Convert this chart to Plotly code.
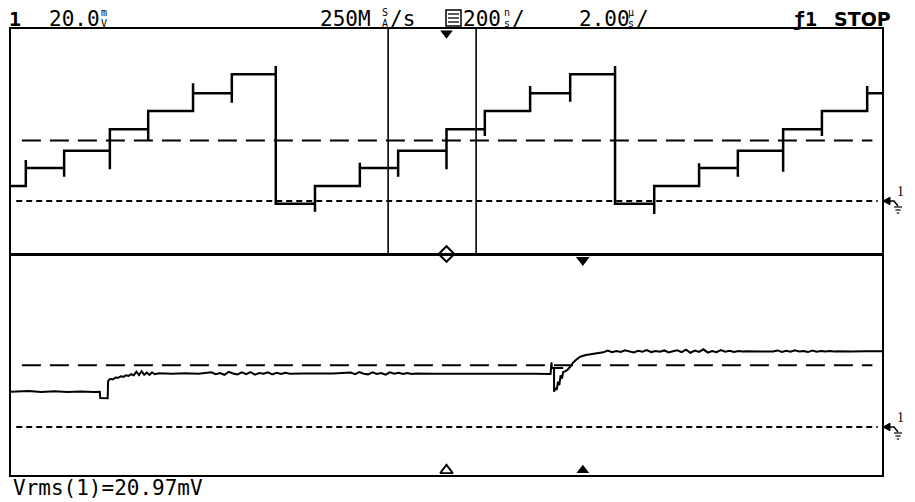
import plotly.graph_objects as go

# ---------------- data ----------------
# time axis in microseconds (2.00 us/div, 10 div), voltages in mV (20.0 mV/div)
T_START, T_END = -10.0, 10.0

# upper trace: staircase, step edge times, spike value at each edge, level after each edge
top_start_level = 10.7
top_edge_t = [-9.66, -8.78, -7.73, -6.85, -5.82, -4.93, -3.92, -3.02, -1.99, -1.11, 0.0,
              0.88, 1.92, 2.84, 3.87, 4.77, 5.80, 6.69, 7.73, 8.62, 9.66]
top_edge_spike = [29.2, 17.3, 22.5, 42.9, 83.7, 69.9, 96.0, -7.6, 27.2, 17.3, 22.5,
                  46.2, 81.8, 70.6, 96.0, -9.2, 26.8, 17.3, 20.8, 46.2, 81.8]
top_level = [23.5, 35.8, 51.0, 64.0, 76.6, 90.1, -2.0, 10.7, 23.5, 35.8, 51.0,
             64.0, 76.6, 90.1, -2.0, 10.7, 23.5, 35.8, 51.0, 64.0, 76.6]

# lower trace samples, read segment by segment (time us, value mV)
bot_t_flat1 = [-10.0, -9.6, -9.3, -9.0, -8.7, -8.4, -8.1, -7.96]
bot_v_flat1 = [25.7, 26.2, 25.4, 26.0, 25.5, 25.9, 25.5, 25.7]
bot_t_rise1 = [-7.95, -7.78, -7.77, -7.72, -7.66, -7.60, -7.54, -7.48, -7.42, -7.36, -7.30, -7.24, -7.18]
bot_v_rise1 = [21.0, 20.9, 33.5, 35.0, 34.6, 36.0, 35.8, 36.9, 36.5, 37.6, 37.2, 38.4, 37.6]
bot_t_settle = [-7.12, -7.06, -7.00, -6.94, -6.88, -6.82, -6.76, -6.70, -6.60, -6.3, -6.0, -5.7]
bot_v_settle = [40.2, 37.8, 40.6, 38.0, 39.6, 37.9, 39.8, 38.4, 39.1, 38.7, 39.1, 38.8]
bot_t_mid1 = [-5.4, -5.3, -5.2, -5.1, -5.0, -4.9, -4.8, -4.7, -4.6, -4.5, -4.4, -4.3, -4.2,
              -4.1, -4.0, -3.9, -3.8, -3.7, -3.6, -3.3, -3.0, -2.6]
bot_v_mid1 = [39.8, 38.4, 39.3, 38.0, 40.1, 38.9, 38.2, 39.7, 38.5, 39.9, 38.1, 39.2, 38.7,
              39.8, 38.3, 39.4, 38.6, 39.5, 38.8, 39.0, 38.8, 38.9]
bot_t_mid2 = [-2.2, -2.1, -2.0, -1.9, -1.8, -1.7, -1.6, -1.5, -1.4, -1.3, -1.2, -1.1, -1.0,
              -0.9, -0.8, -0.7, -0.3, 0.3, 0.9, 1.5, 2.0, 2.39]
bot_v_mid2 = [39.6, 38.4, 39.9, 38.7, 38.3, 39.7, 38.6, 39.3, 38.1, 39.8, 38.7, 39.4, 38.5,
              39.3, 38.6, 38.9, 38.8, 38.9, 38.7, 38.9, 38.8, 38.6]
bot_t_glitch = [2.41, 2.42, 2.68, 2.47, 2.47, 2.50, 2.53, 2.56, 2.59, 2.62, 2.65, 2.68, 2.72, 2.77]
bot_v_glitch = [47.0, 42.9, 42.9, 42.9, 25.7, 28.5, 27.0, 33.0, 30.5, 37.5, 35.2, 40.0, 40.5, 41.4]
bot_t_rise2 = [2.84, 2.90, 2.97, 3.07, 3.20, 3.30, 3.45, 3.60]
bot_v_rise2 = [43.8, 46.6, 48.7, 51.1, 52.3, 52.9, 53.8, 54.3]
bot_t_high = [3.7, 3.8, 3.9, 4.0, 4.1, 4.2, 4.3, 4.4, 4.5, 4.6, 4.7, 4.8, 4.9, 5.0, 5.1,
              5.2, 5.3, 5.4, 5.5, 5.6, 5.7, 5.8, 5.9, 6.0, 6.1, 6.2, 6.3, 6.4, 6.5, 6.6,
              6.7, 6.8, 6.9, 7.2, 7.5, 7.6, 7.7, 7.8, 7.9, 8.0, 8.1, 8.2, 8.3, 8.4, 8.5,
              8.6, 8.7, 8.8, 8.9, 9.0, 9.1, 9.2, 9.3, 9.6, 10.0]
bot_v_high = [55.6, 54.4, 55.2, 54.6, 55.8, 54.9, 54.3, 55.5, 54.7, 55.9, 54.5, 55.3, 54.8, 55.7, 54.2,
              55.1, 55.8, 54.4, 56.3, 54.0, 55.6, 54.6, 56.5, 54.1, 55.2, 54.4, 56.0, 54.8, 55.5, 54.6,
              55.3, 54.9, 55.1, 55.0, 55.0, 55.7, 54.6, 55.4, 54.7, 55.8, 54.9, 55.3, 54.5, 55.6, 54.8,
              55.2, 54.9, 55.3, 54.9, 55.1, 55.0, 55.1, 55.0, 55.1, 55.1]

# reference levels
top_trig_mv, bot_trig_mv = 43.0, 45.0
ground_mv = 0.0
top_range = [-37.7, 122.3]
bot_range = [-34.9, 125.1]
window_t = [-1.34, 0.68]       # delayed-sweep window cursors
trig_marker_t = 0.0
delay_marker_t = 3.13

# ---------------- figure ----------------
W, H = 915, 502
def px(x): return x / W
def py(y): return 1 - y / H

tx, ty = [T_START], [top_start_level]
for t, s, lv in zip(top_edge_t, top_edge_spike, top_level):
    tx += [t, t, t]
    ty += [ty[-1], s, lv]
tx.append(T_END)
ty.append(top_level[-1])

bot_t = (bot_t_flat1 + bot_t_rise1 + bot_t_settle + bot_t_mid1 + bot_t_mid2 +
         bot_t_glitch + bot_t_rise2 + bot_t_high)
bot_v = (bot_v_flat1 + bot_v_rise1 + bot_v_settle + bot_v_mid1 + bot_v_mid2 +
         bot_v_glitch + bot_v_rise2 + bot_v_high)
assert len(bot_t) == len(bot_v)

fig = go.Figure()
fig.add_trace(go.Scatter(x=tx, y=ty, mode="lines", line=dict(color="black", width=2.5),
                         xaxis="x", yaxis="y", hoverinfo="skip"))
fig.add_trace(go.Scatter(x=bot_t, y=bot_v, mode="lines", line=dict(color="black", width=2),
                         xaxis="x2", yaxis="y2", hoverinfo="skip"))

# markers
fig.add_trace(go.Scatter(x=[trig_marker_t], y=[119.3], mode="markers", cliponaxis=False,
                         marker=dict(symbol="triangle-down", size=11, color="black"),
                         xaxis="x", yaxis="y"))
fig.add_trace(go.Scatter(x=[trig_marker_t], y=[top_range[0]], mode="markers", cliponaxis=False,
                         marker=dict(symbol="diamond", size=12, color="white",
                                     line=dict(color="black", width=2)),
                         xaxis="x", yaxis="y"))
fig.add_trace(go.Scatter(x=[delay_marker_t], y=[121.5], mode="markers", cliponaxis=False,
                         marker=dict(symbol="triangle-down", size=12, color="black"),
                         xaxis="x2", yaxis="y2"))
fig.add_trace(go.Scatter(x=[trig_marker_t], y=[-31.5], mode="markers", cliponaxis=False,
                         marker=dict(symbol="triangle-up", size=11, color="white",
                                     line=dict(color="black", width=1.8)),
                         xaxis="x2", yaxis="y2"))
fig.add_trace(go.Scatter(x=[delay_marker_t], y=[-31.5], mode="markers", cliponaxis=False,
                         marker=dict(symbol="triangle-up", size=11, color="black"),
                         xaxis="x2", yaxis="y2"))

shapes = []
# dashed reference lines
for yref, trig in (("y", top_trig_mv), ("y2", bot_trig_mv)):
    xr = "x" if yref == "y" else "x2"
    shapes.append(dict(type="line", xref=xr, yref=yref, x0=-9.75, x1=9.78, y0=trig, y1=trig,
                       line=dict(color="black", width=2, dash="19px,9px")))
    shapes.append(dict(type="line", xref=xr, yref=yref, x0=-9.88, x1=9.9, y0=ground_mv, y1=ground_mv,
                       line=dict(color="black", width=2, dash="6px,4px")))
# window cursors in the upper panel
for wt in window_t:
    shapes.append(dict(type="line", xref="x", yref="y", x0=wt, x1=wt, y0=top_range[0], y1=top_range[1],
                       line=dict(color="black", width=1.6)))

# ground markers at the right edge
for gy in (201, 427):
    shapes.append(dict(type="path", xref="paper", yref="paper",
                       path=f"M {px(883)},{py(gy)} L {px(890)},{py(gy-3.8)} L {px(890)},{py(gy+3.8)} Z",
                       fillcolor="black", line=dict(color="black", width=1)))
    shapes.append(dict(type="path", xref="paper", yref="paper",
                       path=f"M {px(888)},{py(gy)} L {px(894)},{py(gy)} L {px(898)},{py(gy+5)}",
                       line=dict(color="black", width=1.5)))
    for dy, hw in ((6, 4), (9, 2.6), (12, 1.2)):
        shapes.append(dict(type="line", xref="paper", yref="paper",
                           x0=px(898 - hw), x1=px(898 + hw), y0=py(gy + dy), y1=py(gy + dy),
                           line=dict(color="black", width=1.2)))

# delayed-sweep icon in the header
shapes.append(dict(type="rect", xref="paper", yref="paper", x0=px(446), x1=px(461), y0=py(26), y1=py(10),
                   line=dict(color="black", width=1.5)))
for yy in (14, 18, 22):
    shapes.append(dict(type="line", xref="paper", yref="paper", x0=px(448), x1=px(459), y0=py(yy), y1=py(yy),
                       line=dict(color="black", width=1.3)))

MONO = "DejaVu Sans Mono"
ann = []
def txt(x, y, s, size=21, bold=False, family=MONO, xanchor="center"):
    ann.append(dict(x=px(x), y=py(y), xref="paper", yref="paper", text=f"<b>{s}</b>" if bold else s,
                    showarrow=False, xanchor=xanchor, yanchor="middle",
                    font=dict(family=family, size=size, color="black")))

txt(15, 19, "1", size=20, bold=True)
txt(74, 19, "20.0")
txt(104, 13, "m", size=10); txt(104, 24, "V", size=10)
txt(345, 19, "250M")
txt(385, 13, "S", size=10); txt(385, 24, "A", size=10)
txt(402, 19, "/s")
txt(482, 19, "200")
txt(507, 13, "n", size=10); txt(507, 24, "s", size=10)
txt(518, 19, "/")
txt(604, 19, "2.00")
txt(631, 13, "µ", size=10); txt(631, 24, "s", size=10)
txt(642, 19, "/")
txt(805, 19, "ƒ1", size=20, bold=True)
txt(862, 19, "STOP", size=19, bold=True, family="DejaVu Sans")
txt(11, 488, "Vrms(1)=20.97mV", size=21, xanchor="left")
for gy in (201, 427):
    txt(900, gy - 10, "1", size=14, family="Liberation Serif")

axis_common = dict(showgrid=False, zeroline=False, showticklabels=False, ticks="",
                   showline=True, mirror=True, linecolor="black", linewidth=2, fixedrange=True)

fig.update_layout(
    width=W, height=H, autosize=False,
    margin=dict(l=0, r=0, t=0, b=0),
    paper_bgcolor="white", plot_bgcolor="white",
    showlegend=False,
    xaxis=dict(domain=[px(11), px(882)], range=[T_START, T_END], anchor="y", **axis_common),
    yaxis=dict(domain=[py(254), py(29)], range=top_range, anchor="x", **axis_common),
    xaxis2=dict(domain=[px(11), px(882)], range=[T_START, T_END], anchor="y2", **axis_common),
    yaxis2=dict(domain=[py(475), py(255)], range=bot_range, anchor="x2", **axis_common),
    shapes=shapes, annotations=ann,
)

fig.write_html("out.html", config={"displayModeBar": False},
               post_script="document.body.style.margin='0';document.body.style.overflow='hidden';")
